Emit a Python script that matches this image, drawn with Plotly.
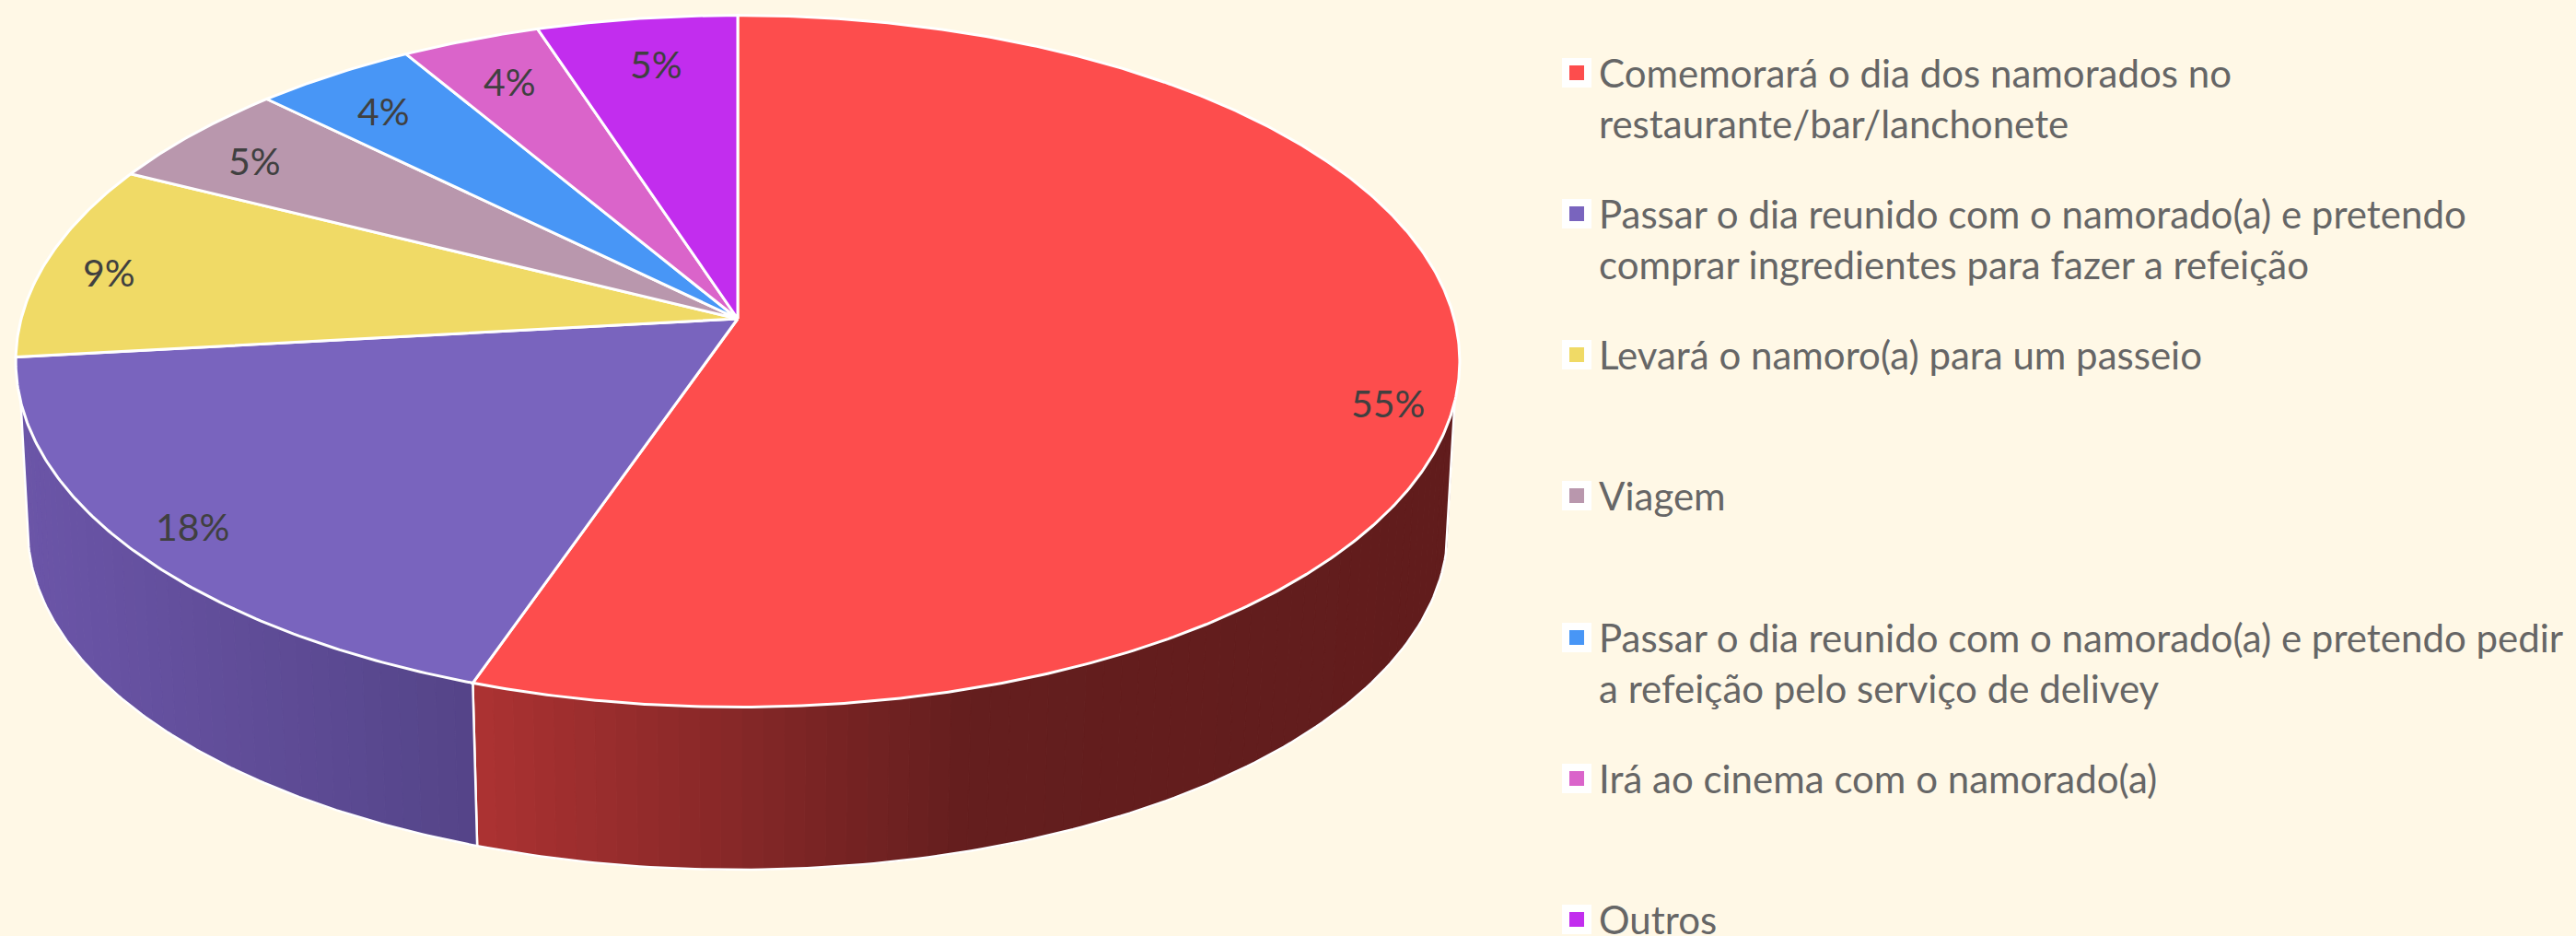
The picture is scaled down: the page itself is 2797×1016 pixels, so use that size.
import numpy as np
import plotly.graph_objects as go

# ---- data (clockwise from 12 o'clock) ----
categories = [
    "Comemorará o dia dos namorados no<br>restaurante/bar/lanchonete",
    "Passar o dia reunido com o namorado(a) e pretendo<br>comprar ingredientes para fazer a refeição",
    "Levará o namoro(a) para um passeio",
    "Viagem",
    "Passar o dia reunido com o namorado(a) e pretendo pedir<br>a refeição pelo serviço de delivey",
    "Irá ao cinema com o namorado(a)",
    "Outros",
]
values = [55.3, 17.93, 9.17, 4.95, 4.1, 3.5, 5.05]
percent_labels = ["55%", "18%", "9%", "5%", "4%", "4%", "5%"]

# ---- styles and layout, separate from the data ----
colors = ["#FD4D4D", "#7964BE", "#F0DA66", "#B997AD", "#4896F6", "#DA64CA", "#C22DEE"]
BG = "#FFF8E6"
FONT = "Lato"
W, H = 2797, 1016
CX, K = 801.0, 0.1227
TOP = dict(a=778.0, b=369.8, cy=346.0)
BOT = dict(a=765.0, b=363.7, cy=529.4)
label_xy = [(1507, 437), (209, 571), (118, 295), (276, 174), (416, 120), (553, 88), (712, 69)]
legend_y = [79, 232, 385, 538, 692, 845, 998]
LEG_MARK_X, LEG_TEXT_X, LEG_LINE = 1712, 1734, 55
LEG_SIZE, LABEL_SIZE = 42, 41

# wall gradient stops: (pixel x, rgb)
wall_stops = {
    0: [(516, (172, 50, 50)), (1050, (100, 30, 30)), (1590, (97, 28, 28))],
    1: [(20, (107, 85, 168)), (516, (84, 68, 136))],
}


def project(theta_deg, disc, r=1.0):
    t = np.radians(theta_deg)
    u, v = r * np.sin(t), r * np.cos(t)
    d = 1 + K * v
    return CX + disc["a"] * u / d, disc["cy"] - disc["b"] * v / d


def bottom_angle(theta):
    """Lower rim angle under a top-rim angle; it runs a little further near the silhouette."""
    off = np.asarray(theta, dtype=float) - 180.0
    extra = 3.7 * (np.clip(np.abs(off) - 55.0, 0, None) / 21.3) ** 2
    return 180.0 + off + np.sign(off) * extra


def wall_color(slice_i, x):
    stops = wall_stops[slice_i]
    xs = [s[0] for s in stops]
    rgb = [np.interp(x, xs, [s[1][c] for s in stops]) for c in range(3)]
    return "rgb(%d,%d,%d)" % tuple(int(round(c)) for c in rgb)


fig = go.Figure()
edges = np.concatenate([[0], np.cumsum(values)]) / np.sum(values) * 360
WALL_L, WALL_R = 256.3, 103.7

# side walls
for i in (0, 1):
    a0 = max(edges[i], WALL_R)
    a1 = min(edges[i + 1], WALL_L)
    steps = np.linspace(a0, a1, int((a1 - a0) / 1.5) + 2)
    for s0, s1 in zip(steps[:-1], steps[1:]):
        xt, yt = project(np.array([s0, s1]), TOP)
        xb, yb = project(bottom_angle(np.array([s1, s0])), BOT)
        c = wall_color(i, float(np.mean(xt)))
        fig.add_trace(go.Scatter(
            x=list(xt) + list(xb) + [xt[0]], y=list(yt) + list(yb) + [yt[0]],
            mode="lines", fill="toself", fillcolor=c,
            line=dict(color=c, width=1), hoverinfo="skip", showlegend=False))
    arc = np.linspace(a0, a1, 120)
    xb, yb = project(bottom_angle(arc), BOT)
    xt0, yt0 = project(a0, TOP)
    xt1, yt1 = project(a1, TOP)
    fig.add_trace(go.Scatter(
        x=[xt0] + list(xb) + [xt1], y=[yt0] + list(yb) + [yt1],
        mode="lines", line=dict(color="#FFFFFF", width=2.5),
        hoverinfo="skip", showlegend=False))

# top face wedges
for i, col in enumerate(colors):
    arc = np.linspace(edges[i], edges[i + 1], max(int(edges[i + 1] - edges[i]) * 2, 12))
    xa, ya = project(arc, TOP)
    x0, y0 = project(0.0, TOP, 0.0)
    fig.add_trace(go.Scatter(
        x=[x0] + list(xa) + [x0], y=[y0] + list(ya) + [y0],
        mode="lines", fill="toself", fillcolor=col,
        line=dict(color="#FFFFFF", width=3),
        hoverinfo="skip", showlegend=False))

# legend keys
fig.add_trace(go.Scatter(
    x=[LEG_MARK_X] * len(colors), y=legend_y, mode="markers",
    marker=dict(symbol="square", size=32, color="#FFFFFF", line=dict(width=0)),
    hoverinfo="skip", showlegend=False))
fig.add_trace(go.Scatter(
    x=[LEG_MARK_X] * len(colors), y=legend_y, mode="markers",
    marker=dict(symbol="square", size=16, color=colors, line=dict(width=0)),
    hoverinfo="skip", showlegend=False))

annotations = []
for name, y0 in zip(categories, legend_y):
    for j, line in enumerate(name.split("<br>")):
        annotations.append(dict(
            x=LEG_TEXT_X, y=y0 + j * LEG_LINE, xref="x", yref="y", text=line,
            xanchor="left", yanchor="middle", showarrow=False,
            font=dict(family=FONT, size=LEG_SIZE, color="#666666")))
for txt, (lx, ly) in zip(percent_labels, label_xy):
    annotations.append(dict(
        x=lx, y=ly, xref="x", yref="y", text=txt, xanchor="center", yanchor="middle",
        showarrow=False, font=dict(family=FONT, size=LABEL_SIZE, color="#404040")))

fig.update_layout(
    width=W, height=H, margin=dict(l=0, r=0, t=0, b=0),
    paper_bgcolor=BG, plot_bgcolor=BG, showlegend=False, annotations=annotations,
    xaxis=dict(range=[0, W], visible=False, fixedrange=True),
    yaxis=dict(range=[H, 0], visible=False, fixedrange=True),
)
fig.write_html(
    "out.html",
    config={"displayModeBar": False},
    post_script="document.body.style.margin='0';document.body.style.overflow='hidden';"
                "document.body.style.background='%s';" % BG,
)
